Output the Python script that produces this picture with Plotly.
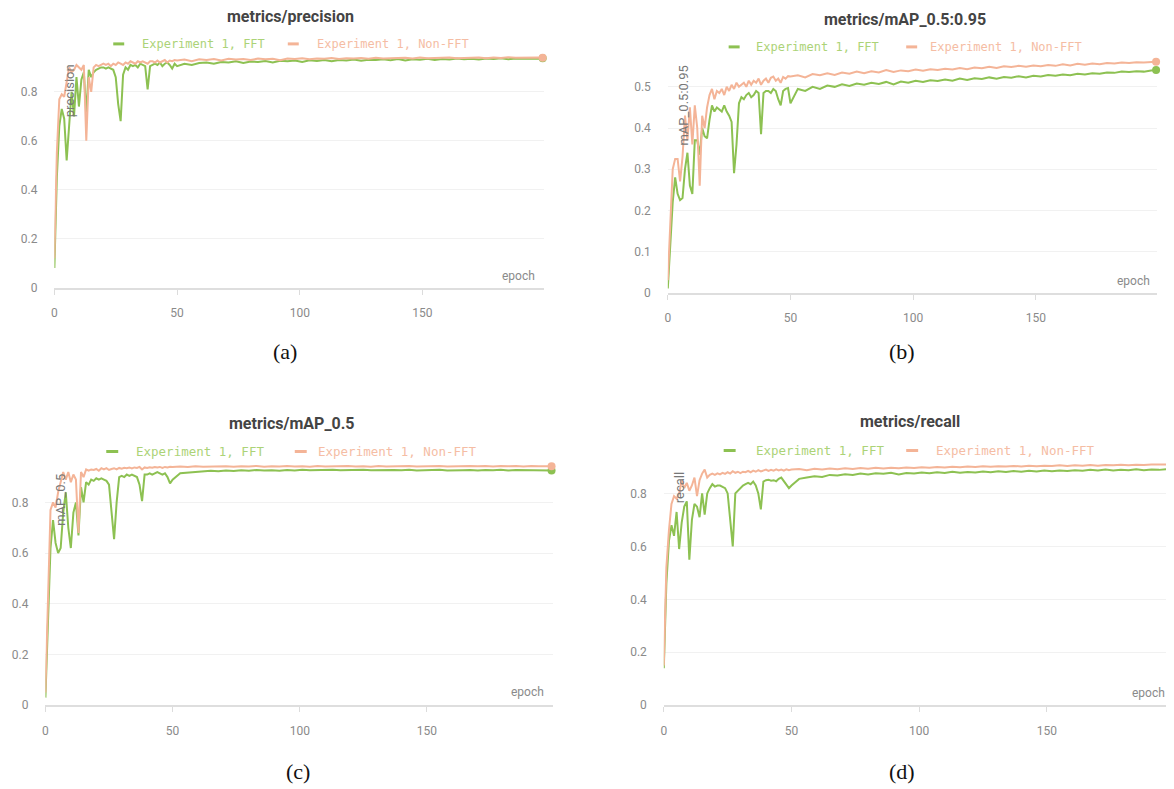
import plotly.graph_objects as go

# window size of the reference picture; the page body adds an 8px margin
W, H = 1174, 789
OFF = 8
FW, FH = W - OFF, H - OFF

# ---------------- data ----------------
EPOCHS = list(range(0, 50)) + list(range(50, 199, 3)) + [199]

SERIES_NAMES = ["Experiment 1, FFT", "Experiment 1, Non-FFT"]
PANEL_TITLES = ["metrics/precision", "metrics/mAP_0.5:0.95", "metrics/mAP_0.5", "metrics/recall"]
Y_LABELS = ["precision", "mAP_0.5:0.95", "mAP_0.5", "recall"]
CAPTIONS = ["(a)", "(b)", "(c)", "(d)"]
X_TICKS = [0, 50, 100, 150]

PRECISION_FFT = [
    0.08, 0.45, 0.66, 0.73, 0.69, 0.52, 0.66, 0.80, 0.70, 0.86,
    0.74, 0.85, 0.88, 0.71, 0.89, 0.86, 0.88, 0.89, 0.895, 0.90,
    0.90, 0.895, 0.90, 0.895, 0.89, 0.86, 0.75, 0.68, 0.87, 0.90,
    0.89, 0.91, 0.905, 0.91, 0.90, 0.915, 0.91, 0.905, 0.81, 0.905,
    0.91, 0.915, 0.91, 0.92, 0.905, 0.915, 0.92, 0.91, 0.895, 0.915,
    0.905, 0.915, 0.91, 0.918, 0.92, 0.915, 0.922, 0.92, 0.925, 0.918,
    0.924, 0.922, 0.926, 0.92, 0.927, 0.925, 0.928, 0.922, 0.929, 0.926,
    0.93, 0.925, 0.93, 0.928, 0.932, 0.927, 0.931, 0.93, 0.933, 0.929,
    0.934, 0.928, 0.933, 0.931, 0.935, 0.93, 0.934, 0.932, 0.936, 0.933,
    0.935, 0.932, 0.936, 0.934, 0.937, 0.933, 0.936, 0.935, 0.937, 0.935,
    0.937,
]
PRECISION_NONFFT = [
    0.12, 0.55, 0.77, 0.79, 0.78, 0.85, 0.90, 0.88, 0.89, 0.91,
    0.90, 0.89, 0.91, 0.60, 0.86, 0.80, 0.90, 0.91, 0.905, 0.91,
    0.915, 0.91, 0.915, 0.905, 0.915, 0.91, 0.92, 0.915, 0.91, 0.92,
    0.915, 0.925, 0.92, 0.915, 0.925, 0.92, 0.925, 0.92, 0.915, 0.925,
    0.925, 0.92, 0.928, 0.92, 0.925, 0.93, 0.92, 0.928, 0.925, 0.93,
    0.928, 0.932, 0.925, 0.933, 0.93, 0.934, 0.928, 0.935, 0.932, 0.934,
    0.93, 0.936, 0.933, 0.935, 0.929, 0.936, 0.934, 0.937, 0.933, 0.936,
    0.935, 0.938, 0.934, 0.937, 0.936, 0.938, 0.935, 0.939, 0.936, 0.938,
    0.937, 0.939, 0.936, 0.94, 0.937, 0.939, 0.938, 0.94, 0.937, 0.939,
    0.938, 0.94, 0.937, 0.94, 0.938, 0.941, 0.939, 0.94, 0.938, 0.94,
    0.939,
]
MAP5095_FFT = [
    0.01, 0.12, 0.22, 0.28, 0.24, 0.225, 0.23, 0.30, 0.34, 0.26,
    0.24, 0.37, 0.37, 0.335, 0.40, 0.38, 0.375, 0.42, 0.455, 0.44,
    0.45, 0.445, 0.44, 0.455, 0.44, 0.43, 0.415, 0.29, 0.36, 0.46,
    0.475, 0.47, 0.48, 0.485, 0.475, 0.48, 0.49, 0.485, 0.385, 0.485,
    0.49, 0.49, 0.485, 0.495, 0.49, 0.47, 0.455, 0.49, 0.495, 0.497,
    0.46, 0.495, 0.49, 0.50, 0.495, 0.503, 0.50, 0.506, 0.502, 0.508,
    0.505, 0.51, 0.507, 0.512, 0.506, 0.513, 0.51, 0.515, 0.512, 0.516,
    0.514, 0.518, 0.515, 0.52, 0.517, 0.521, 0.519, 0.523, 0.52, 0.524,
    0.522, 0.526, 0.523, 0.527, 0.525, 0.529, 0.527, 0.53, 0.528, 0.532,
    0.53, 0.533, 0.532, 0.535, 0.534, 0.537, 0.536, 0.538, 0.537, 0.54,
    0.541,
]
MAP5095_NONFFT = [
    0.03, 0.18, 0.30, 0.325, 0.325, 0.27, 0.33, 0.43, 0.37, 0.45,
    0.36, 0.455, 0.40, 0.26, 0.43, 0.40, 0.45, 0.48, 0.495, 0.47,
    0.49, 0.485, 0.495, 0.48, 0.50, 0.49, 0.505, 0.495, 0.51, 0.50,
    0.505, 0.51, 0.50, 0.515, 0.505, 0.515, 0.51, 0.52, 0.505, 0.515,
    0.52, 0.51, 0.522, 0.525, 0.515, 0.52, 0.51, 0.524, 0.52, 0.526,
    0.525, 0.528, 0.523, 0.531, 0.528, 0.533, 0.529, 0.535, 0.532, 0.537,
    0.533, 0.538, 0.535, 0.541, 0.536, 0.54, 0.538, 0.542, 0.539, 0.543,
    0.541, 0.544, 0.542, 0.546, 0.543, 0.547, 0.545, 0.549, 0.546, 0.55,
    0.548, 0.551, 0.549, 0.552, 0.55, 0.553, 0.551, 0.555, 0.552, 0.556,
    0.554, 0.557, 0.555, 0.558, 0.557, 0.559, 0.558, 0.56, 0.559, 0.561,
    0.561,
]
MAP50_FFT = [
    0.03, 0.35, 0.62, 0.73, 0.64, 0.60, 0.62, 0.76, 0.84, 0.70,
    0.62, 0.76, 0.80, 0.67, 0.86, 0.80, 0.88, 0.87, 0.89, 0.885,
    0.895, 0.89, 0.895, 0.89, 0.885, 0.87, 0.76, 0.655, 0.80, 0.90,
    0.905, 0.90, 0.91, 0.905, 0.91, 0.905, 0.90, 0.87, 0.805, 0.91,
    0.91, 0.915, 0.91, 0.915, 0.92, 0.915, 0.91, 0.915, 0.90, 0.875,
    0.89, 0.915, 0.918, 0.92, 0.922, 0.925, 0.923, 0.926, 0.924, 0.927,
    0.925, 0.928, 0.926, 0.927, 0.925, 0.928, 0.926, 0.929, 0.927, 0.928,
    0.926, 0.929, 0.927, 0.928, 0.926, 0.929, 0.927, 0.928, 0.926, 0.928,
    0.927, 0.929, 0.926, 0.928, 0.927, 0.929, 0.926, 0.928, 0.927, 0.928,
    0.926, 0.928, 0.927, 0.929, 0.926, 0.928, 0.927, 0.928, 0.926, 0.927,
    0.926,
]
MAP50_NONFFT = [
    0.05, 0.45, 0.77, 0.80, 0.78, 0.84, 0.885, 0.92, 0.89, 0.92,
    0.88, 0.91, 0.89, 0.68, 0.92, 0.90, 0.93, 0.925, 0.93, 0.928,
    0.932, 0.925, 0.935, 0.93, 0.935, 0.928, 0.932, 0.935, 0.93, 0.936,
    0.933, 0.937, 0.935, 0.938, 0.934, 0.938, 0.936, 0.94, 0.93, 0.938,
    0.936, 0.939, 0.937, 0.94, 0.938, 0.94, 0.936, 0.94, 0.938, 0.941,
    0.94, 0.942, 0.94, 0.943, 0.941, 0.942, 0.94, 0.943, 0.941, 0.943,
    0.942, 0.944, 0.941, 0.943, 0.942, 0.944, 0.942, 0.943, 0.941, 0.944,
    0.942, 0.943, 0.942, 0.944, 0.942, 0.943, 0.941, 0.944, 0.942, 0.943,
    0.942, 0.944, 0.942, 0.943, 0.942, 0.944, 0.942, 0.943, 0.942, 0.944,
    0.943, 0.944, 0.942, 0.944, 0.943, 0.944, 0.942, 0.944, 0.943, 0.944,
    0.943,
]
RECALL_FFT = [
    0.14, 0.46, 0.62, 0.68, 0.64, 0.73, 0.59, 0.69, 0.75, 0.77,
    0.55, 0.70, 0.76, 0.75, 0.71, 0.80, 0.72, 0.80, 0.82, 0.835,
    0.826, 0.83, 0.83, 0.825, 0.82, 0.80, 0.70, 0.60, 0.80, 0.81,
    0.82, 0.83, 0.835, 0.84, 0.835, 0.845, 0.83, 0.80, 0.74, 0.845,
    0.85, 0.852, 0.848, 0.85, 0.846, 0.855, 0.86, 0.846, 0.835, 0.82,
    0.83, 0.855, 0.86, 0.865, 0.862, 0.87, 0.868, 0.872, 0.87, 0.875,
    0.872, 0.876, 0.874, 0.878, 0.872, 0.877, 0.875, 0.879, 0.876, 0.88,
    0.877, 0.882, 0.878, 0.881, 0.879, 0.883, 0.88, 0.884, 0.881, 0.885,
    0.882, 0.886, 0.883, 0.887, 0.884, 0.887, 0.885, 0.888, 0.886, 0.889,
    0.887, 0.89, 0.887, 0.889, 0.888, 0.891, 0.888, 0.89, 0.889, 0.892,
    0.891,
]
RECALL_NONFFT = [
    0.15, 0.52, 0.66, 0.76, 0.79, 0.78, 0.80, 0.85, 0.82, 0.84,
    0.81, 0.83, 0.86, 0.79, 0.85, 0.875, 0.89, 0.86, 0.87, 0.875,
    0.87, 0.876, 0.872, 0.878, 0.874, 0.88, 0.875, 0.884, 0.878, 0.882,
    0.877, 0.882, 0.88, 0.885, 0.88, 0.886, 0.882, 0.888, 0.883, 0.887,
    0.89, 0.885, 0.889, 0.886, 0.891, 0.887, 0.89, 0.886, 0.891, 0.888,
    0.89, 0.892, 0.888, 0.893, 0.89, 0.894, 0.891, 0.895, 0.892, 0.896,
    0.893, 0.897, 0.894, 0.897, 0.895, 0.898, 0.896, 0.899, 0.897, 0.90,
    0.898, 0.901, 0.899, 0.902, 0.90, 0.903, 0.901, 0.903, 0.902, 0.904,
    0.902, 0.905, 0.903, 0.905, 0.904, 0.906, 0.904, 0.906, 0.905, 0.907,
    0.905, 0.907, 0.906, 0.908, 0.906, 0.908, 0.907, 0.909, 0.908, 0.909,
    0.909,
]

PANEL_DATA = [
    (PRECISION_FFT, PRECISION_NONFFT),
    (MAP5095_FFT, MAP5095_NONFFT),
    (MAP50_FFT, MAP50_NONFFT),
    (RECALL_FFT, RECALL_NONFFT),
]
Y_DTICKS = [0.2, 0.1, 0.2, 0.2]
Y_MAX = [0.95, 0.565, 0.95, 0.915]

# ---------------- styling / geometry (window pixels) ----------------
LINE_COLORS = ["#8dc152", "#f4b497"]
TEXT_COLORS = ["#acd377", "#f5bda4"]
TICK_COLOR = "#8a8a8a"

GEOM = [
    dict(x0=53, ppe=2.46, ybase=288, ppu=245, title=(290, 17), leg_y=44,
         dash1=(112, 123), text1=139, dash2=(287, 298), text2=314,
         ylab=(69, 91), epoch=(537, 276), cap=(284, 352), lf=12),
    dict(x0=668, ppe=2.46, ybase=293, ppu=412, title=(906, 20), leg_y=47,
         dash1=(729, 740), text1=754, dash2=(907, 918), text2=929,
         ylab=(684, 106), epoch=(1153, 281), cap=(903, 352), lf=12),
    dict(x0=44, ppe=2.55, ybase=706, ppu=253.75, title=(291, 424), leg_y=452,
         dash1=(105, 117), text1=133, dash2=(294, 306), text2=315,
         ylab=(59, 500), epoch=(546, 693), cap=(297, 772), lf=12.5),
    dict(x0=664, ppe=2.56, ybase=706, ppu=265, title=(911, 422), leg_y=451,
         dash1=(724, 736), text1=754, dash2=(907, 919), text2=935,
         ylab=(680, 488), epoch=(1168, 694), cap=(903, 772), lf=12.5),
]

XSHIFT = 1.5     # small empirical correction (px)
YSCALE = 1.008   # small empirical vertical stretch about the top


def fx(px):
    return (px - OFF - XSHIFT) / FW


def fy(py):
    return 1 - ((py - 16) * YSCALE + 16 - OFF) / FH


fig = go.Figure()
annotations = []
shapes = []
layout_axes = {}

for i, (series, g) in enumerate(zip(PANEL_DATA, GEOM)):
    n = "" if i == 0 else str(i + 1)
    xref, yref = "x" + n, "y" + n
    x1px = min(W + XSHIFT, g["x0"] + 199.5 * g["ppe"])
    xmax = (x1px - g["x0"]) / g["ppe"]
    ytop = g["ybase"] - Y_MAX[i] * g["ppu"]

    layout_axes["xaxis" + n] = dict(
        domain=[fx(g["x0"]), min(1.0, fx(x1px))], range=[0, xmax], anchor=yref,
        tickvals=X_TICKS, showgrid=False, zeroline=False,
        showline=True, linecolor="#dedede", linewidth=2,
        ticks="outside", ticklen=5, tickcolor="#dcdcdc", tickwidth=1,
        ticklabelstandoff=8,
        tickfont=dict(family="Roboto", size=12, color=TICK_COLOR),
    )
    layout_axes["yaxis" + n] = dict(
        domain=[fy(g["ybase"]), fy(ytop)], range=[0, Y_MAX[i]], anchor=xref,
        dtick=Y_DTICKS[i], tick0=0, showgrid=True, gridcolor="#f1f1f1", gridwidth=1,
        zeroline=False, showline=False, ticks="", ticklabelstandoff=16,
        tickfont=dict(family="Roboto", size=12, color=TICK_COLOR),
    )

    for j, vals in enumerate(series):
        fig.add_trace(go.Scatter(
            x=EPOCHS, y=vals, mode="lines", name=SERIES_NAMES[j],
            line=dict(color=LINE_COLORS[j], width=2),
            xaxis=xref, yaxis=yref, showlegend=False,
        ))
        fig.add_trace(go.Scatter(
            x=[EPOCHS[-1]], y=[vals[-1]], mode="markers",
            marker=dict(color=LINE_COLORS[j], size=8),
            xaxis=xref, yaxis=yref, showlegend=False, cliponaxis=False,
        ))

    # title
    annotations.append(dict(
        text="<b>" + PANEL_TITLES[i] + "</b>", x=fx(g["title"][0]), y=fy(g["title"][1]),
        xref="paper", yref="paper", xanchor="center", yanchor="middle", showarrow=False,
        font=dict(family="Roboto", size=16, color="#444444"),
    ))
    # legend
    for (d0, d1), tx, k in ((g["dash1"], g["text1"], 0), (g["dash2"], g["text2"], 1)):
        shapes.append(dict(
            type="line", xref="paper", yref="paper",
            x0=fx(d0), x1=fx(d1), y0=fy(g["leg_y"]), y1=fy(g["leg_y"]),
            line=dict(color=LINE_COLORS[k], width=3),
        ))
        annotations.append(dict(
            text=SERIES_NAMES[k], x=fx(tx), y=fy(g["leg_y"]),
            xref="paper", yref="paper", xanchor="left", yanchor="middle", showarrow=False,
            font=dict(family="DejaVu Sans Mono", size=g["lf"], color=TEXT_COLORS[k]),
        ))
    # y-axis label (rotated, inside plot)
    annotations.append(dict(
        text=Y_LABELS[i], x=fx(g["ylab"][0]), y=fy(g["ylab"][1]),
        xref="paper", yref="paper", xanchor="center", yanchor="middle", showarrow=False,
        textangle=-90, font=dict(family="Roboto", size=13, color="#777777"),
    ))
    # x-axis label
    annotations.append(dict(
        text="epoch", x=fx(g["epoch"][0]), y=fy(g["epoch"][1]),
        xref="paper", yref="paper", xanchor="right", yanchor="middle", showarrow=False,
        font=dict(family="Roboto", size=12, color=TICK_COLOR),
    ))
    # caption
    annotations.append(dict(
        text=CAPTIONS[i], x=fx(g["cap"][0]), y=fy(g["cap"][1]),
        xref="paper", yref="paper", xanchor="center", yanchor="middle", showarrow=False,
        font=dict(family="Liberation Serif", size=22, color="#111111"),
    ))

fig.update_layout(
    width=FW, height=FH, margin=dict(l=0, r=0, t=0, b=0),
    paper_bgcolor="white", plot_bgcolor="white",
    showlegend=False, annotations=annotations, shapes=shapes,
    **layout_axes,
)

fig.write_html("out.html")
